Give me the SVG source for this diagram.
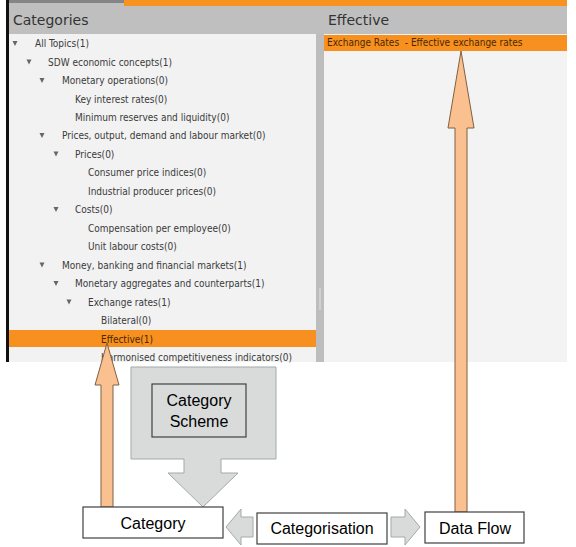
<svg xmlns="http://www.w3.org/2000/svg" width="576" height="547" viewBox="0 0 576 547">
<style>
.tree{font-family:"DejaVu Sans Condensed","DejaVu Sans",sans-serif;font-size:10px;fill:#3a3a3a;white-space:pre}
.hdr{font-family:"DejaVu Sans",sans-serif;font-size:14px;fill:#333}
.sel{fill:#4a2800}
.tri{fill:#666}
.lbl{font-family:"Liberation Sans",Arial,sans-serif;font-size:16px;fill:#000;text-anchor:middle}
.box{fill:#fff;stroke:#404040;stroke-width:1.2}
.orange{fill:#fac090;stroke:#7f6040;stroke-width:1}
.grey{fill:#d9dbdb;stroke:#a3a9a9;stroke-width:1}
</style>
<rect width="576" height="547" fill="#fff"/>
<!-- screenshot -->
<g id="screenshot">
  <rect x="6" y="0" width="561" height="362" fill="#f2f2f2"/>
  <rect x="9" y="3" width="558" height="31" fill="#bfbfbf"/>
  <rect x="6" y="0" width="118" height="3" fill="#858585"/>
  <rect x="124" y="0" width="443" height="6" fill="#f7931e"/>
  <rect x="6" y="0" width="3" height="362" fill="#111"/>
  <rect x="316" y="34" width="8" height="328" fill="#bdbdbd"/>
  <rect x="319" y="288" width="2" height="22" fill="#d0d0d0"/>
  <rect x="324" y="34" width="243" height="328" fill="#f3f3f3"/>
  <text class="hdr" x="13" y="25">Categories</text>
  <text class="hdr" x="328" y="25">Effective</text>
  <rect x="324" y="35" width="243" height="16" fill="#f7901e"/>
  <text class="tree sel" x="327" y="46" xml:space="preserve">Exchange Rates  - Effective exchange rates</text>
  <rect x="9" y="330" width="307" height="17" fill="#f7901e"/>
  <polygon class="tri" points="12.5,41 17.5,41 15,46"/>
  <text class="tree" x="35" y="47">All Topics(1)</text>
  <polygon class="tri" points="26.5,59.5 31.5,59.5 29,64.5"/>
  <text class="tree" x="48" y="65.5">SDW economic concepts(1)</text>
  <polygon class="tri" points="39.5,78 44.5,78 42,83"/>
  <text class="tree" x="62" y="84">Monetary operations(0)</text>
  <text class="tree" x="75" y="102.5">Key interest rates(0)</text>
  <text class="tree" x="75" y="121">Minimum reserves and liquidity(0)</text>
  <polygon class="tri" points="39.5,133 44.5,133 42,138"/>
  <text class="tree" x="62" y="139">Prices, output, demand and labour market(0)</text>
  <polygon class="tri" points="53.5,151.5 58.5,151.5 56,156.5"/>
  <text class="tree" x="75" y="157.5">Prices(0)</text>
  <text class="tree" x="88" y="176">Consumer price indices(0)</text>
  <text class="tree" x="88" y="194.5">Industrial producer prices(0)</text>
  <polygon class="tri" points="53.5,207 58.5,207 56,212"/>
  <text class="tree" x="75" y="213">Costs(0)</text>
  <text class="tree" x="88" y="231.5">Compensation per employee(0)</text>
  <text class="tree" x="88" y="250">Unit labour costs(0)</text>
  <polygon class="tri" points="39.5,262.5 44.5,262.5 42,267.5"/>
  <text class="tree" x="62" y="268.5">Money, banking and financial markets(1)</text>
  <polygon class="tri" points="53.5,281 58.5,281 56,286"/>
  <text class="tree" x="75" y="287">Monetary aggregates and counterparts(1)</text>
  <polygon class="tri" points="66.5,299.5 71.5,299.5 69,304.5"/>
  <text class="tree" x="88" y="305.5">Exchange rates(1)</text>
  <text class="tree" x="101" y="324">Bilateral(0)</text>
  <text class="tree sel" x="101" y="342.5">Effective(1)</text>
  <text class="tree" x="101" y="361">Harmonised competitiveness indicators(0)</text>
</g>
<!-- connectors -->
<g id="connectors">
  <polygon class="orange" points="107,343 119,385 113,385 113,507 101,507 101,385 95,385"/>
  <polygon class="orange" points="461,51 474,128 467,128 467,512 455,512 455,128 448,128"/>
  <polygon class="grey" points="226,527 241,509 241,517 253,517 253,537 241,537 241,545"/>
  <polygon class="grey" points="420,527 405,509 405,517 391,517 391,537 405,537 405,545"/>
</g>
<!-- nodes -->
<g id="category-scheme">
  <polygon class="grey" points="131,367 276,367 276,459 221,459 221,473 238,473 203,507 168,473 184,473 184,459 131,459"/>
  <rect x="152" y="384" width="94" height="53" fill="#d9dbdb" stroke="#404040" stroke-width="1.2"/>
  <text class="lbl" x="199" y="406">Category</text>
  <text class="lbl" x="199" y="427">Scheme</text>
</g>
<g id="category">
  <rect class="box" x="83" y="507" width="140" height="31"/>
  <text class="lbl" x="153" y="529">Category</text>
</g>
<g id="categorisation">
  <rect class="box" x="257" y="513" width="130" height="31"/>
  <text class="lbl" x="322" y="534">Categorisation</text>
</g>
<g id="data-flow">
  <rect class="box" x="425" y="512" width="99" height="31"/>
  <text class="lbl" x="475" y="534">Data Flow</text>
</g>
</svg>
